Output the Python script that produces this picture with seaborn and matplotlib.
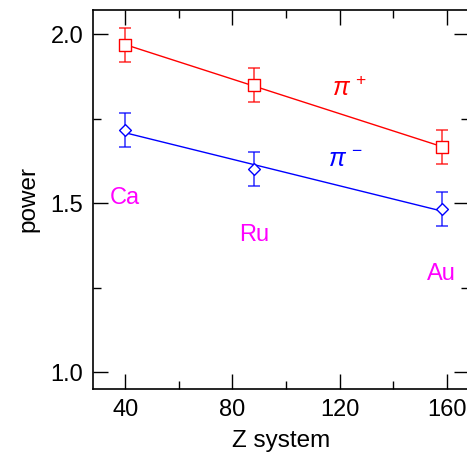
import numpy as np
import pandas as pd
import matplotlib
matplotlib.use("Agg")
import matplotlib.pyplot as plt
import seaborn as sns
from matplotlib.ticker import MultipleLocator

z_system = [40, 88, 158]
systems = ["Ca", "Ru", "Au"]
power_pip = [1.967, 1.849, 1.666]
err_pip = [0.05, 0.05, 0.05]
power_pim = [1.716, 1.600, 1.482]
err_pim = [0.05, 0.05, 0.05]
label_y = [1.515, 1.405, 1.29]

sns.set_theme(style="ticks")
plt.rcParams['font.family'] = ['Liberation Sans', 'DejaVu Sans']
plt.rcParams['mathtext.fontset'] = 'custom'
plt.rcParams['mathtext.it'] = 'Liberation Sans:italic'
plt.rcParams['mathtext.rm'] = 'Liberation Sans'
for k in ['text.color', 'axes.labelcolor', 'xtick.color', 'ytick.color', 'axes.edgecolor']:
    plt.rcParams[k] = 'black'

fig = plt.figure(figsize=(4.67, 4.55), dpi=100)
ax = fig.add_axes([93/467, 1-389/455, 376/467, 379/455])

df = pd.DataFrame({"Z": z_system * 2,
                   "power": power_pip + power_pim,
                   "err": err_pip + err_pim,
                   "series": ["pip"] * 3 + ["pim"] * 3})

for s, col, mk, ms in [("pip", "#ff0000", "s", 8), ("pim", "#0000ff", "D", 6)]:
    d = df[df.series == s]
    coef = np.polyfit(d.Z, d.power, 1)
    xs = np.array([z_system[0], z_system[-1]])
    fit = pd.DataFrame({"Z": xs, "power": np.polyval(coef, xs)})
    sns.lineplot(data=fit, x="Z", y="power", color=col, lw=1.0, ax=ax, zorder=2)
    ax.errorbar(d.Z, d.power, yerr=d.err, fmt="none", ecolor=col, alpha=0.75,
                elinewidth=1.2, capsize=4, capthick=1.2, zorder=3)
    sns.scatterplot(data=d, x="Z", y="power", marker=mk, s=ms**2,
                    facecolors="white", edgecolor=col, linewidth=1.0, ax=ax, zorder=4)

for x, y, t in zip(z_system, label_y, systems):
    ax.text(x, y, t, color="#ff00ff", fontsize=17, ha="center", va="center")

ax.text(123.5, 1.838, r"$\pi^{\,+}$", color="#ff0000", fontsize=18, ha="center", va="center")
ax.text(122.0, 1.627, r"$\pi^{\,-}$", color="#0000ff", fontsize=18, ha="center", va="center")

ax.set_xlim(28, 168.2)
ax.set_ylim(0.95, 2.071)
ax.xaxis.set_major_locator(MultipleLocator(40))
ax.xaxis.set_minor_locator(MultipleLocator(20))
ax.yaxis.set_major_locator(MultipleLocator(0.5))
ax.yaxis.set_minor_locator(MultipleLocator(0.25))
ax.tick_params(which="both", direction="in", top=True, right=True, color="black", width=1.0)
ax.tick_params(which="major", length=11, labelsize=17, pad=7)
ax.tick_params(which="minor", length=6)
ax.xaxis.set_major_formatter(matplotlib.ticker.FormatStrFormatter("%d"))
ax.yaxis.set_major_formatter(matplotlib.ticker.FormatStrFormatter("%.1f"))
for sp in ax.spines.values():
    sp.set_color("black")
    sp.set_linewidth(1.2)
ax.set_xlabel("Z system", fontsize=17.5, labelpad=7)
ax.set_ylabel("power", fontsize=17.5, labelpad=8)

fig.savefig("out.png", dpi=100)
